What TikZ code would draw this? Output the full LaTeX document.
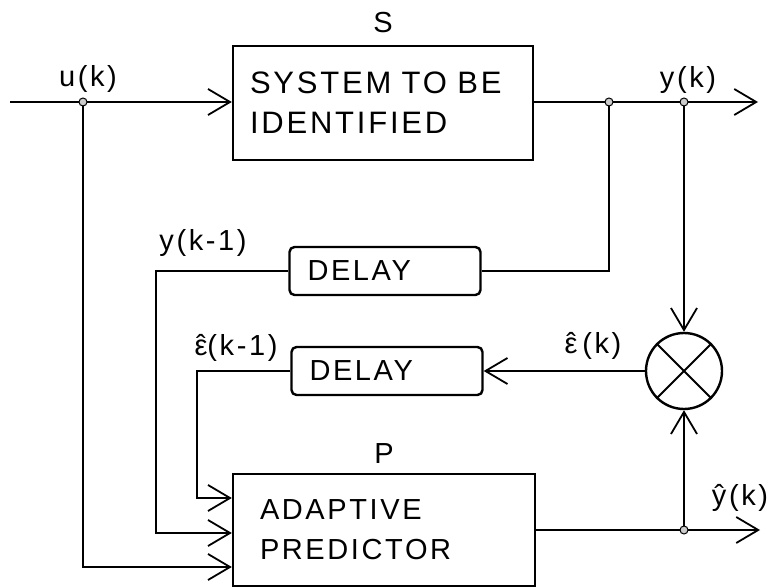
\documentclass[tikz,border=0pt]{standalone}
\usepackage{fontspec}
\setmainfont{Liberation Sans}[LetterSpace=9]
\usetikzlibrary{arrows.meta,positioning}
\newcommand\lblfont{\fontsize{29}{40}\selectfont}
\newcommand\hatted[1]{\ooalign{#1\cr\hidewidth\char"02C6\hidewidth\cr}}

\begin{document}
\begin{tikzpicture}[x=1pt, y=-1pt, every node/.style={font=\lblfont},
    wire/.style={line width=1.8pt},
    sig/.style={wire, -{Straight Barb[length=22pt,width=26pt]}},
    block/.style={draw, line width=2.4pt, align=left},
    dly/.style={draw, line width=2.4pt, rounded corners=5pt, align=left,
      text width=155pt, inner xsep=18pt, minimum height=48pt},
    tap/.style={circle, draw, line width=1pt, fill=gray!40, inner sep=0pt, minimum size=8pt}]
  \useasboundingbox (0,0) rectangle (769,588);

  % Blocks
  \node[block, text width=266pt, inner xsep=17pt, minimum height=114pt,
    font=\fontsize{31}{40}\selectfont] (sys) at (383,103) {SYSTEM TO BE\\IDENTIFIED};
  \node[above=8pt of sys] (slbl) {S};
  \node[dly] (delA) at (385,271) {DELAY};
  \node[dly] (delB) at (387,371) {DELAY};
  \node[block, text width=248pt, inner xsep=27pt, minimum height=112pt] (pred) at (384,530) {ADAPTIVE\\PREDICTOR};
  \node[above=6pt of pred] (plbl) {P};
  \node[circle, draw, line width=2.4pt, minimum size=76pt, inner sep=0pt] (mult) at (684,371) {};
  \draw[line width=1.8pt] (mult.north west) -- (mult.south east) (mult.north east) -- (mult.south west);

  % Junctions and free ends
  \coordinate (in) at (10,102);
  \coordinate (ju) at (83,102);
  \coordinate (jy1) at (609,102);
  \coordinate (jy2) at (684,102);
  \coordinate (outy) at (758,102);
  \coordinate (jp) at (684,530);
  \coordinate (outp) at (760,530);
  \coordinate (pin1) at ([yshift=32pt]pred.west);
  \coordinate (pin2) at ([yshift=-3pt]pred.west);
  \coordinate (pin3) at ([yshift=-37pt]pred.west);

  % Signal paths
  \draw[sig] (in) -- (sys.west |- ju);
  \draw[sig] (sys.east |- jy1) -- (outy);
  \draw[wire] (jy1) |- (delA.east);
  \draw[sig] (delA.west) -| ([xshift=-76pt]pin2) -- (pin2);
  \draw[sig] (delB.west) -| ([xshift=-35pt]pin1) -- (pin1);
  \draw[sig] (ju) |- (pin3);
  \draw[sig] (pred.east |- jp) -- (outp);
  \draw[sig] (jy2) -- (mult.north);
  \draw[sig] (jp) -- (mult.south);
  \draw[sig] (mult.west) -- (delB.east);

  % Tap dots
  \foreach \t in {ju,jy1,jy2,jp}
    \node[tap] at (\t) {};

  % Signal labels
  \node (lu) at (88,79) {u(k)};
  \node (ly) at (688,80) {y(k)};
  \node (lya) at (203,243) {y(k-1)};
  \node (lea) at (236,348) {\hatted{ε}(k-1)};
  \node (le) at (593,346) {\hatted{ε}\,(k)};
  \node (lyh) at (740,498) {ŷ(k)};
\end{tikzpicture}
\end{document}
